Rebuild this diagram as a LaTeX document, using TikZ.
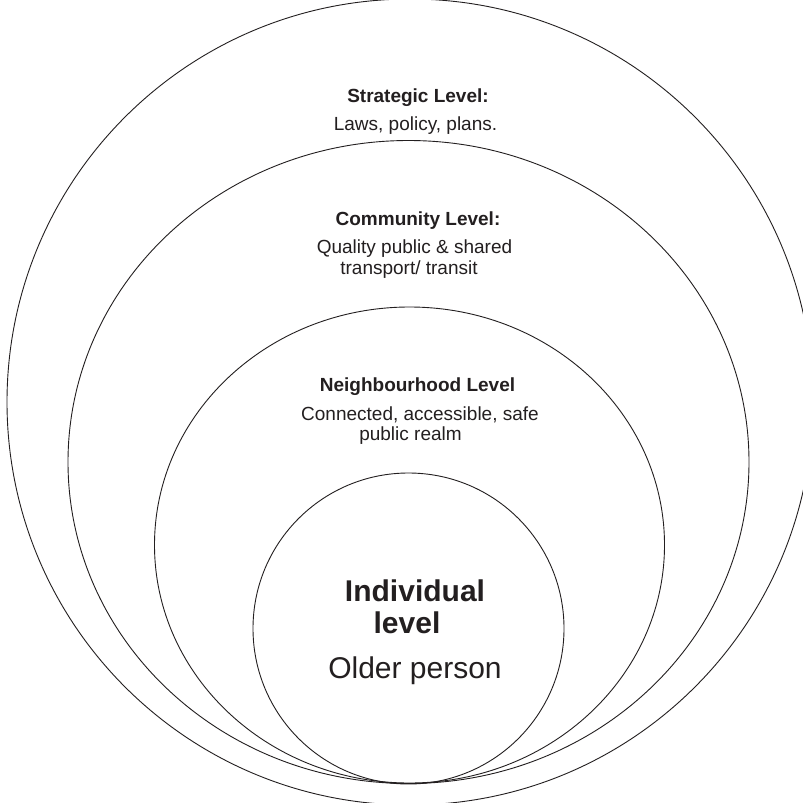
\documentclass[tikz,border=0pt]{standalone}
\usepackage{fontspec}
\setmainfont{Liberation Sans}
\definecolor{ink}{HTML}{231F20}
\begin{document}
\begin{tikzpicture}[x=1pt,y=-1pt,
  ring/.style={draw=ink, line width=0.9pt},
  lvl/.style={anchor=base, inner sep=0pt, font=\fontsize{19}{23}\selectfont\bfseries, text=ink},
  desc/.style={anchor=base, inner sep=0pt, font=\fontsize{19}{23}\selectfont, text=ink},
  bigbold/.style={anchor=base, inner sep=0pt, font=\fontsize{30}{36}\selectfont\bfseries, text=ink},
  big/.style={anchor=base, inner sep=0pt, font=\fontsize{30}{36}\selectfont, text=ink}]
\useasboundingbox (0,0) rectangle (803,803);
\clip (0,0) rectangle (803,803);
\fill[white] (0,0) rectangle (803,803);
% rings
\draw[ring] (410,402) circle [radius=403];
\draw[ring] (408.5,462) ellipse [x radius=340.5, y radius=321.5];
\draw[ring] (409.5,545) ellipse [x radius=255, y radius=238];
\draw[ring] (408.5,628.5) circle [radius=155.5];
% strategic
\node[lvl]  (strat)  at (418,102) {Strategic Level:};
\node[desc] (laws)   at (415.5,130) {Laws, policy, plans.};
% community
\node[lvl]  (comm)   at (418,225) {Community Level:};
\node[desc] (qual)   at (414.5,253) {Quality public \& shared};
\node[desc] (trans)  at (409,274) {transport/ transit};
% neighbourhood
\node[lvl]  (neigh)  at (417.5,391) {Neighbourhood Level};
\node[desc] (conn)   at (420,420) {Connected, accessible, safe};
\node[desc] (realm)  at (410.5,440) {public realm};
% individual
\node[bigbold] (indiv) at (415,601) {Individual};
\node[bigbold] (level) at (407,633) {level};
\node[big]     (older) at (415,678) {Older person};
\end{tikzpicture}
\end{document}
